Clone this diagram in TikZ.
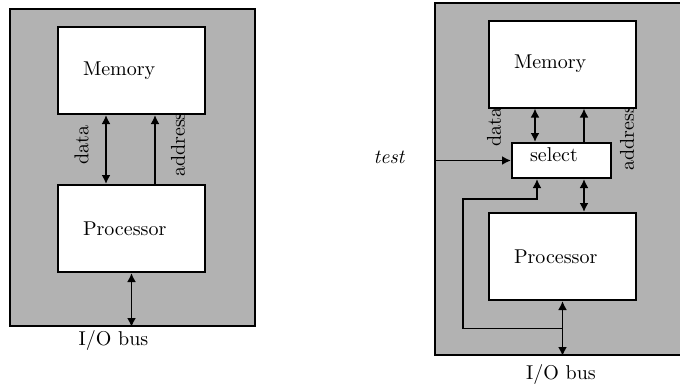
\documentclass[tikz,border=0pt]{standalone}
\usetikzlibrary{calc}
\usetikzlibrary{arrows.meta}

\begin{document}
\begin{tikzpicture}[x=0.5pt, y=-0.5pt, >={Latex[length=4.5pt,width=4.5pt]}]

  \tikzstyle{system} = [draw, line width=1pt, fill=black!30, inner sep=0pt]
  \tikzstyle{unit} = [draw, line width=1pt, fill=white, align=left,
  inner xsep=12.5pt, inner ysep=0pt, text width=48.5pt, minimum height=43.5pt]
  \tikzstyle{selbox} = [draw, line width=1pt, fill=white, align=left,
  inner xsep=9pt, inner ysep=2pt, text width=31.5pt, text height=7pt, text depth=6.5pt]
  \tikzstyle{wire} = [line width=0.9pt]
  \tikzstyle{buslabel} = [rotate=90, inner sep=0pt]

\useasboundingbox (0,0) rectangle (680,387);
\clip (0,0) rectangle (680,387);

% left: plain system
\node[system, minimum width=122.5pt, minimum height=158.5pt] (lsys) at (132.5,167.5) {};

\node[buslabel] (ldata) at (81.5,145) {data};
\node[buslabel] (laddr) at (178,144.5) {address};

\node[unit] (lmem) at (131.5,70.5) {Memory};
\node[unit] (lproc) at (131.5,228.5) {Processor};

\node (lbus) at (113.5,340) {I/O bus};

\draw[wire,<->] ([xshift=-12.75pt]lmem.south) -- ([xshift=-12.75pt]lproc.north);
\draw[wire,->] ([xshift=11.75pt]lproc.north) -- ([xshift=11.75pt]lmem.south);
\draw[wire,<->] (lproc.south) -- (lproc.south |- lsys.south);

% right: system with select unit
\node[system, minimum width=123.5pt, minimum height=176pt] (rsys) at (558.5,179) {};

\node[buslabel] (rdata) at (494,127) {data};
\node[buslabel] (raddr) at (627,138) {address};

\node[unit] (rmem) at (562.5,64) {Memory};
\node[selbox] (sel) at (561.5,160.5) {select};
\node[unit] (rproc) at (562.5,256.5) {Processor};

\node[font=\itshape] (test) at (389,157) {test};
\node (rbus) at (561,374) {I/O bus};

\draw[wire,<->] ([xshift=-13.75pt]rmem.south) -- ([xshift=-13.75pt]rmem.south |- sel.north);
\draw[wire,->] ([xshift=10.75pt]rmem.south |- sel.north) -- ([xshift=10.75pt]rmem.south);
\draw[wire,<->] ([xshift=10.75pt]rproc.north |- sel.south) -- ([xshift=10.75pt]rproc.north);
\draw[wire,->] (rsys.west |- sel.west) -- (sel.west);
\draw[wire,<->] (rproc.south) -- (rproc.south |- rsys.south);

\coordinate (tap) at ($(rproc.south)!0.5!(rproc.south |- rsys.south)$);
\coordinate (loop) at (463,199);
\draw[wire,->] (tap) -| (loop) -| ([xshift=-12.25pt]sel.south);

\end{tikzpicture}
\end{document}
